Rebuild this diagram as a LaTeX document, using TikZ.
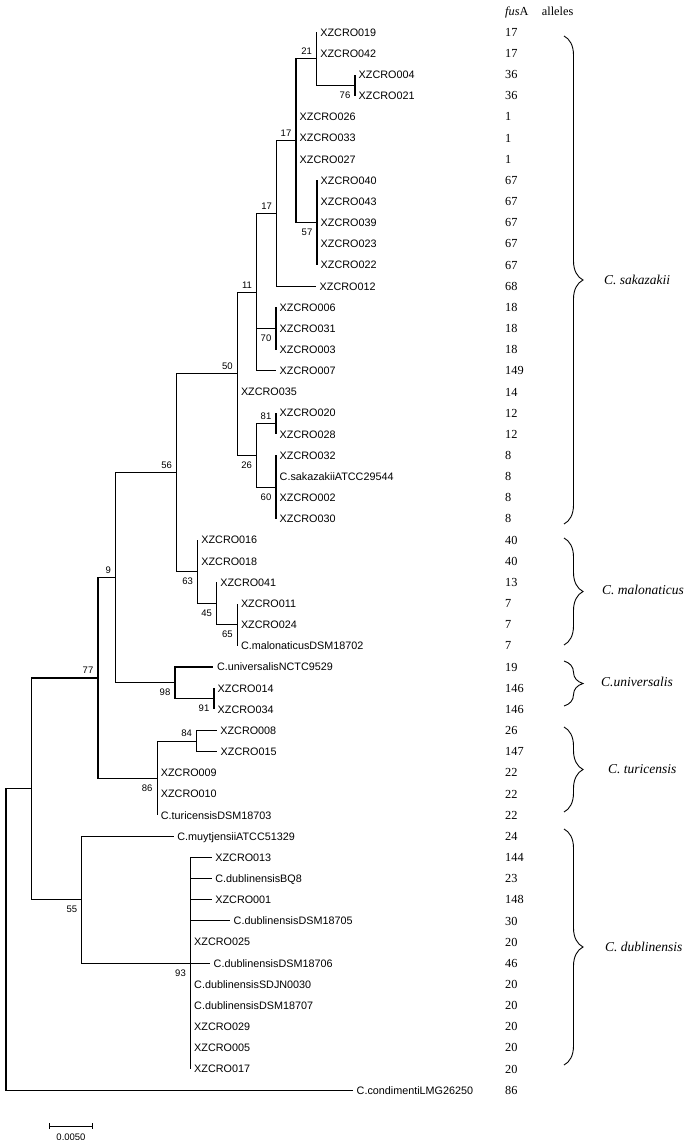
\documentclass[tikz,border=0pt]{standalone}
\usepackage{fontspec}
\setmainfont{Liberation Serif}
\setsansfont{Liberation Sans}
\usetikzlibrary{arrows.meta,decorations.pathreplacing}
\def\colA{505}
\tikzset{
  branch/.style ={line width=1.1pt},
  leaf/.style   ={anchor=base west,inner sep=0pt,xshift=3.5pt,yshift=-3.9pt,
                  font=\sffamily\fontsize{10.8}{12}\selectfont},
  bootA/.style  ={anchor=base east,inner sep=0pt,xshift=-4.5pt,yshift=4.1pt,
                  font=\sffamily\fontsize{9.5}{11}\selectfont},
  bootB/.style  ={anchor=base east,inner sep=0pt,xshift=-4.5pt,yshift=-13pt,
                  font=\sffamily\fontsize{9.5}{11}\selectfont},
  allele/.style ={anchor=base west,inner sep=0pt,yshift=-4.1pt,
                  font=\fontsize{12.3}{14}\selectfont},
  clade/.style  ={anchor=base west,inner sep=0pt,yshift=-4.5pt,
                  font=\itshape\fontsize{13.5}{15}\selectfont},
  curly/.style  ={decorate,decoration={brace,amplitude=19pt},line width=0.9pt}
}

\begin{document}
\begin{tikzpicture}[x=1pt,y=-1pt]
\useasboundingbox (0,0) rectangle (692,1140);

% leaves: tip x / label, one row each
\foreach \x/\t [count=\i] in {316.7/XZCRO019, 316.7/XZCRO042, 355/XZCRO004, 355/XZCRO021,
    296/XZCRO026, 296/XZCRO033, 296/XZCRO027, 317/XZCRO040, 317/XZCRO043, 317/XZCRO039,
    317/XZCRO023, 317/XZCRO022, 316/XZCRO012, 276/XZCRO006, 276/XZCRO031, 276/XZCRO003,
    276/XZCRO007, 237.3/XZCRO035, 276/XZCRO020, 276/XZCRO028, 276/XZCRO032,
    276/C.sakazakiiATCC29544, 276/XZCRO002, 276/XZCRO030, 197.7/XZCRO016, 197.7/XZCRO018,
    216.7/XZCRO041, 237.3/XZCRO011, 237.3/XZCRO024, 237.3/C.malonaticusDSM18702,
    213.3/C.universalisNCTC9529, 214/XZCRO014, 214/XZCRO034, 216.7/XZCRO008, 217/XZCRO015,
    157.2/XZCRO009, 157.2/XZCRO010, 157.2/C.turicensisDSM18703, 173.7/C.muytjensiiATCC51329,
    211.7/XZCRO013, 211.7/C.dublinensisBQ8, 211.7/XZCRO001, 230/C.dublinensisDSM18705,
    190.5/XZCRO025, 210/C.dublinensisDSM18706, 190.5/C.dublinensisSDJN0030,
    190.5/C.dublinensisDSM18707, 190.5/XZCRO029, 190.5/XZCRO005, 190.5/XZCRO017,
    353/C.condimentiLMG26250}
{
  \coordinate (t\i) at (\x,{32.2+21.16*(\i-1)});
  \node[leaf] (l\i) at (t\i) {\t};
}

% fusA allele column
\node[allele] (hdF) at (\colA,11.7) {\textit{fus}A};
\node[allele] (hdA) at (541.7,11.7) {alleles};
\foreach \a [count=\i] in {17,17,36,36,1,1,1,67,67,67,67,67,68,18,18,18,149,14,12,12,
    8,8,8,8,40,40,13,7,7,7,19,146,146,26,147,22,22,22,24,144,23,148,30,20,46,
    20,20,20,20,20,86}
  \node[allele] (a\i) at (\colA,{32.2+21.16*(\i-1)}) {\a};

% internal nodes
\coordinate (n76)  at (355,85.1);
\coordinate (n21)  at (316.7,58.65);
\coordinate (n57)  at (317,222.64);
\coordinate (n17a) at (296,140.6);
\coordinate (n17b) at (276.7,213.4);
\coordinate (n70)  at (276,328.44);
\coordinate (n11)  at (256.7,292.1);
\coordinate (n81)  at (276,423.66);
\coordinate (n60)  at (276,487.14);
\coordinate (n26)  at (256.7,455.4);
\coordinate (n50)  at (237.3,373.75);
\coordinate (n65)  at (237.3,624.68);
\coordinate (n45)  at (216.7,603.52);
\coordinate (n63)  at (197.7,571.78);
\coordinate (n56)  at (176.7,472.77);
\coordinate (n91)  at (214,698.74);
\coordinate (n98)  at (175,682.87);
\coordinate (n9)   at (115.7,577.82);
\coordinate (n84)  at (196.7,741.06);
\coordinate (n86)  at (157.2,778.09);
\coordinate (n77)  at (98,677.96);
\coordinate (n93)  at (190.5,963.24);
\coordinate (n55)  at (81.8,899.76);
\coordinate (nX)   at (31.5,788.86);
\coordinate (nR)   at (6,939.53);

% branches
\foreach \p/\c in {n76/t3, n76/t4, n21/t1, n21/t2, n21/n76,
    n57/t8, n57/t9, n57/t10, n57/t11, n57/t12,
    n17a/n21, n17a/t5, n17a/t6, n17a/t7, n17a/n57, n17b/n17a, n17b/t13,
    n70/t14, n70/t15, n70/t16, n11/n17b, n11/n70, n11/t17,
    n81/t19, n81/t20, n60/t21, n60/t22, n60/t23, n60/t24, n26/n81, n26/n60,
    n50/n11, n50/t18, n50/n26,
    n65/t28, n65/t29, n65/t30, n45/t27, n45/n65, n63/t25, n63/t26, n63/n45,
    n56/n50, n56/n63, n91/t32, n91/t33, n98/t31, n98/n91, n9/n56, n9/n98,
    n84/t34, n84/t35, n86/n84, n86/t36, n86/t37, n86/t38, n77/n9, n77/n86,
    n93/t40, n93/t41, n93/t42, n93/t43, n93/t44, n93/t45, n93/t46, n93/t47,
    n93/t48, n93/t49, n93/t50, n55/t39, n55/n93,
    nX/n77, nX/n55, nR/nX, nR/t51}
  \draw[branch] (\p) |- (\c);

% bootstrap values
\foreach \n/\v in {n21/21, n17a/17, n17b/17, n11/11, n50/50, n81/81, n56/56, n9/9,
    n77/77, n84/84}
  \node[bootA] at (\n) {\v};
\foreach \n/\v in {n76/76, n57/57, n70/70, n26/26, n60/60, n63/63, n45/45, n65/65,
    n98/98, n91/91, n86/86, n55/55, n93/93}
  \node[bootB] at (\n) {\v};

% species braces
\coordinate (kS1) at (564,36);   \coordinate (kS2) at (564,524);
\coordinate (kM1) at (564,538);  \coordinate (kM2) at (564,645);
\coordinate (kU1) at (564,661);  \coordinate (kU2) at (564,706);
\coordinate (kT1) at (564,727);  \coordinate (kT2) at (564,812);
\coordinate (kD1) at (564,829);  \coordinate (kD2) at (564,1065);
\draw[curly] (kS1) -- (kS2);
\draw[curly] (kM1) -- (kM2);
\draw[curly] (kU1) -- (kU2);
\draw[curly] (kT1) -- (kT2);
\draw[curly] (kD1) -- (kD2);
\node[clade] (sak) at (604,280) {C. sakazakii};
\node[clade] (mal) at (602,590) {C. malonaticus};
\node[clade] (uni) at (601,682) {C.universalis};
\node[clade] (tur) at (608,769) {C. turicensis};
\node[clade] (dub) at (605,947) {C. dublinensis};

% scale bar
\coordinate (sbL) at (49,1126);
\coordinate (sbR) at (93,1126);
\draw[line width=0.8pt,{Bar[width=6pt]}-{Bar[width=6pt]}] (sbL) -- (sbR);
\node[inner sep=0pt,font=\sffamily\fontsize{9.5}{11}\selectfont] (sbT) at (71,1137) {0.0050};

\end{tikzpicture}
\end{document}
